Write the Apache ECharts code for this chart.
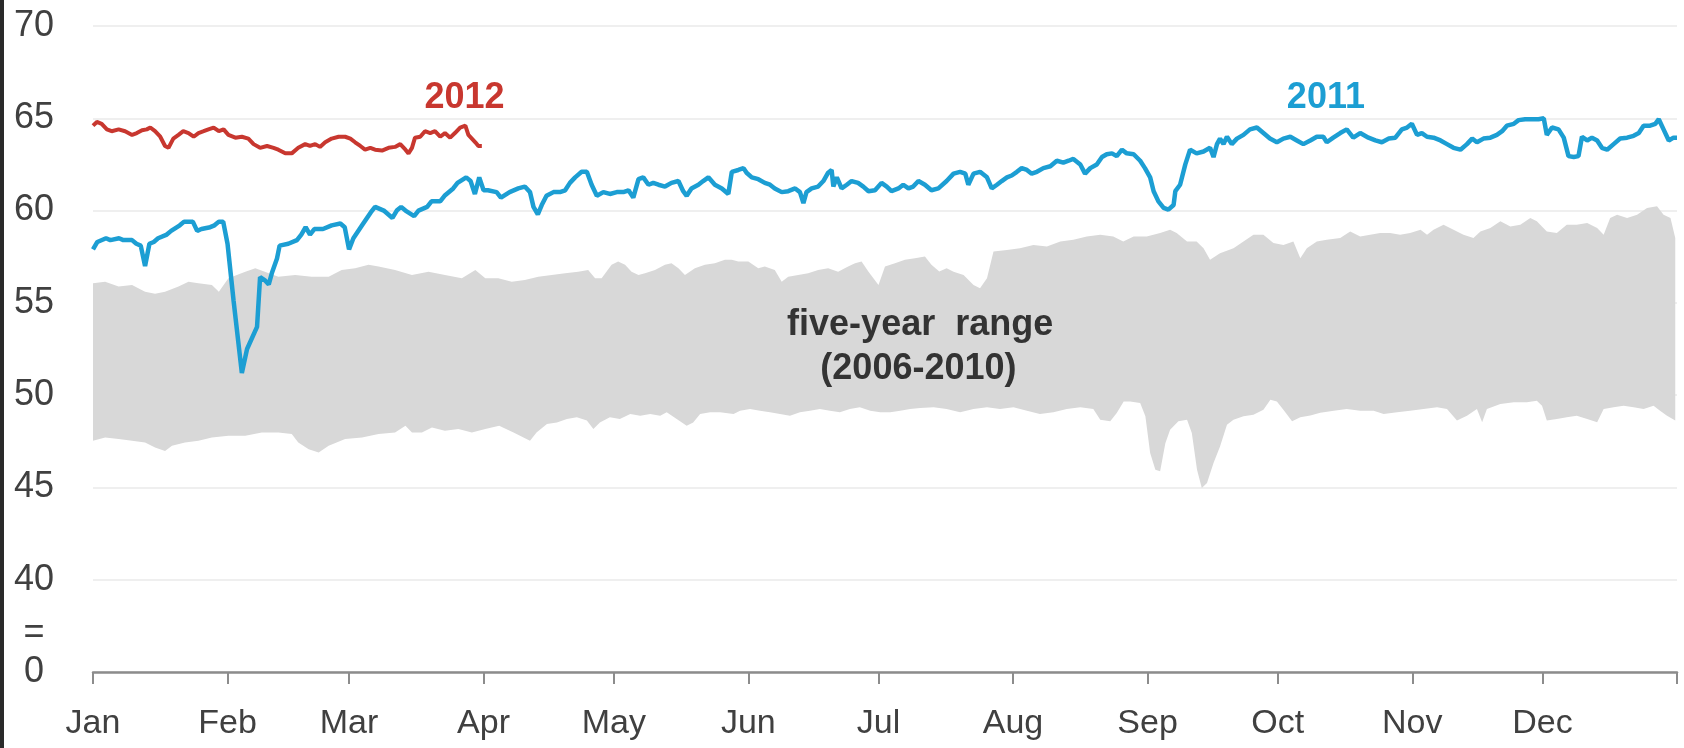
<!DOCTYPE html>
<html><head><meta charset="utf-8">
<script src="https://cdn.jsdelivr.net/npm/echarts@6/dist/echarts.min.js"></script>
<style>html,body{margin:0;padding:0;background:#fff}#c{width:1684px;height:748px}</style>
</head><body><div id="c"></div>
<script>
// ---- axis definitions ----
const monthNames = ['Jan','Feb','Mar','Apr','May','Jun','Jul','Aug','Sep','Oct','Nov','Dec'];
const monthStartDays = [0,31,59,90,120,151,181,212,243,273,304,334];
const monthTickDays = [0,31,59,90,120,151,181,212,243,273,304,334,365];
const yLabelValues = [35,37.1,40,45,50,55,60,65,70];
const yLabelTexts = ['0','=','40','45','50','55','60','65','70'];

// ---- data: [day of year, value] ----
const series2011 = [[0,57.9],[1,58.3],[3,58.5],[4,58.4],[6,58.5],[7,58.4],[9,58.4],[10,58.2],[11,58.1],[12,57.0],[13,58.2],[14,58.3],[15,58.5],[17,58.7],[18,58.9],[20,59.2],[21,59.4],[23,59.4],[24,58.9],[25,59.0],[27,59.1],[28,59.2],[29,59.4],[30,59.4],[31,58.2],[32.4,55.1],[34.3,51.2],[35.5,52.5],[37.8,53.7],[38.5,56.4],[39.7,56.2],[40.5,56.0],[41.2,56.6],[42.4,57.4],[43,58.1],[45,58.2],[47,58.4],[48,58.7],[49,59.1],[50,58.7],[51,59.0],[53,59.0],[55,59.2],[57,59.3],[58,59.1],[59,57.9],[60,58.5],[62,59.2],[64,59.9],[65,60.2],[67,60.0],[69,59.6],[70,60.0],[71,60.2],[72,60.0],[74,59.7],[75,60.0],[77,60.2],[78,60.5],[80,60.5],[81,60.8],[83,61.2],[84,61.5],[86,61.8],[87,61.6],[88,60.9],[89,61.8],[90,61.1],[91,61.1],[93,61.0],[94,60.7],[96,61.0],[98,61.2],[99.5,61.3],[100.7,61.0],[101.5,60.2],[102.5,59.8],[103.4,60.3],[104.5,60.8],[106.1,61.0],[107.6,61.0],[108.8,61.1],[109.9,61.5],[111.1,61.8],[112.6,62.1],[113.8,62.1],[114.9,61.4],[116.1,60.8],[117.6,61.0],[119.1,60.9],[120.7,61.0],[122.2,61.0],[123.4,61.1],[124.5,60.7],[125.7,61.7],[126.8,61.8],[128.0,61.4],[129.1,61.5],[130.3,61.4],[131.8,61.3],[133.3,61.5],[134.9,61.6],[136.0,61.05],[136.8,60.8],[137.9,61.2],[139.5,61.4],[140.6,61.6],[141.8,61.8],[143.3,61.4],[144.9,61.2],[146.4,60.9],[147.2,62.1],[148.7,62.2],[149.9,62.3],[150.6,62.05],[151.8,61.8],[153.3,61.7],[154.8,61.5],[156.0,61.4],[157.1,61.2],[158.7,61.0],[160.2,61.05],[161.8,61.2],[162.9,61.0],[163.7,60.4],[164.4,61.0],[165.6,61.2],[167.1,61.3],[168.3,61.6],[169.4,62.05],[170.2,62.2],[170.6,61.3],[171.4,61.8],[172.5,61.2],[173.7,61.4],[174.8,61.6],[176.3,61.5],[177.5,61.3],[178.7,61.05],[180.2,61.1],[181.7,61.5],[182.9,61.3],[184.0,61.05],[185.6,61.2],[186.7,61.4],[187.9,61.2],[189.0,61.3],[190.2,61.6],[191.7,61.4],[193.2,61.1],[194.8,61.2],[196.7,61.6],[198.3,62.0],[199.8,62.1],[201.0,62.0],[201.7,61.4],[202.9,62.0],[204.4,62.1],[206.0,61.8],[207.1,61.2],[208.3,61.4],[209.4,61.6],[210.6,61.8],[211.7,61.9],[212.9,62.1],[214.0,62.3],[215.2,62.2],[216.3,62.0],[217.5,62.1],[219.0,62.3],[220.6,62.4],[222.1,62.7],[223.6,62.6],[224.8,62.7],[225.9,62.8],[227.5,62.5],[228.6,62.0],[229.8,62.3],[231.3,62.5],[232.5,62.9],[233.6,63.05],[234.8,63.1],[235.9,62.95],[237.1,63.3],[238.2,63.1],[239.8,63.05],[241.3,62.7],[242.4,62.3],[243.6,61.8],[244.4,61.05],[245.5,60.5],[246.7,60.15],[247.8,60.05],[249.0,60.3],[249.4,61.05],[250.5,61.4],[251.7,62.5],[252.8,63.3],[254.3,63.1],[255.9,63.2],[257.4,63.4],[258.2,62.9],[259.0,63.6],[259.7,63.9],[260.5,63.6],[261.3,64.0],[262.4,63.6],[263.6,63.9],[265.1,64.1],[266.6,64.4],[268.2,64.5],[269.7,64.2],[271.2,63.9],[272.8,63.7],[274.3,63.9],[275.9,64.0],[277.4,63.8],[278.9,63.6],[280.5,63.8],[282.0,64.0],[283.5,64.0],[284.3,63.7],[285.8,63.95],[287.4,64.2],[288.9,64.4],[290.4,63.95],[292.0,64.2],[293.9,63.95],[295.5,63.8],[297.0,63.7],[298.6,63.9],[300.1,63.95],[301.6,64.4],[302.8,64.5],[303.9,64.7],[305.1,64.1],[306.2,64.2],[307.4,64.0],[308.9,63.95],[310.5,63.8],[312.0,63.6],[313.5,63.4],[315.1,63.3],[316.6,63.6],[317.8,63.9],[318.9,63.7],[320.4,63.9],[322.0,63.95],[323.5,64.1],[324.7,64.3],[325.8,64.6],[327.4,64.7],[328.5,64.9],[330.0,64.95],[331.6,64.95],[333.1,64.95],[334.3,65.0],[335.0,64.1],[336.2,64.5],[337.7,64.4],[338.9,63.95],[340.0,62.95],[341.2,62.9],[342.3,62.95],[343.1,64.0],[344.3,63.8],[345.4,63.95],[346.6,63.8],[347.7,63.4],[348.9,63.3],[350.4,63.6],[351.9,63.9],[353.5,63.95],[355.0,64.05],[356.2,64.2],[357.3,64.6],[358.8,64.6],[360.0,64.7],[360.8,64.95],[361.9,64.4],[363.1,63.8],[364.2,63.95],[365,63.95]];

const series2012 = [[0,64.6],[0.9,64.8],[2,64.7],[3.2,64.4],[4.3,64.3],[5.9,64.4],[7.4,64.3],[9,64.1],[10.1,64.2],[11.3,64.35],[12.4,64.4],[13.2,64.5],[14.3,64.3],[15.5,64.0],[16.6,63.5],[17.4,63.4],[18.5,63.9],[19.7,64.1],[20.8,64.3],[22,64.2],[23.2,64.0],[24.3,64.2],[25.5,64.3],[26.6,64.4],[27.8,64.5],[29,64.3],[30.1,64.4],[31.2,64.1],[32.8,63.95],[34.3,64.0],[35.8,63.9],[37,63.6],[38.5,63.4],[40.1,63.5],[41.6,63.4],[42.7,63.3],[44.3,63.1],[45.8,63.1],[47.3,63.4],[48.9,63.6],[50,63.5],[51.2,63.6],[52.3,63.45],[53.5,63.7],[55,63.9],[56.6,64.0],[58.1,64.0],[59.3,63.9],[60.4,63.7],[61.6,63.5],[62.7,63.3],[63.9,63.4],[65,63.3],[66.6,63.25],[68.1,63.4],[69.6,63.45],[70.8,63.6],[72,63.3],[72.7,63.1],[73.5,63.4],[74.2,63.95],[75.4,64.0],[76.5,64.3],[77.7,64.2],[78.8,64.3],[80,64.0],[81.1,64.2],[82.3,63.95],[83.4,64.2],[84.6,64.5],[85.8,64.6],[86.5,64.1],[87.3,63.9],[88.1,63.7],[88.8,63.5],[89.6,63.5]];

const rangeUpper = [[0,56.06],[2.8,56.15],[5.9,55.88],[9.0,55.97],[12.0,55.6],[14.3,55.5],[16.6,55.6],[19.7,55.88],[22.0,56.15],[24.3,56.06],[27.4,55.97],[29.0,55.6],[31.2,56.33],[35.1,56.69],[37.4,56.87],[42.7,56.42],[46.6,56.51],[50.4,56.42],[54.3,56.42],[57.3,56.78],[60.4,56.87],[63.5,57.06],[65.8,56.97],[69.6,56.78],[73.5,56.51],[77.3,56.69],[81.1,56.51],[85.0,56.33],[88.1,56.78],[90.4,56.33],[93.4,56.33],[96.5,56.15],[99.5,56.24],[102.6,56.42],[105.7,56.51],[108.8,56.6],[111.8,56.69],[114.1,56.78],[115.7,56.33],[117.2,56.33],[119.5,57.06],[121.0,57.24],[122.6,57.06],[124.1,56.69],[125.7,56.51],[127.2,56.6],[129.5,56.78],[131.8,57.06],[133.3,57.15],[134.9,56.87],[136.4,56.51],[138.7,56.87],[141.0,57.06],[143.3,57.15],[145.6,57.33],[147.2,57.33],[148.7,57.24],[151.0,57.24],[153.3,56.87],[154.8,56.97],[157.1,56.78],[158.7,56.15],[160.2,56.42],[162.5,56.51],[164.8,56.6],[167.1,56.78],[169.4,56.87],[171.7,56.69],[174.0,56.97],[175.6,57.15],[177.1,57.24],[178.7,56.69],[181.0,55.97],[182.5,56.97],[184.8,57.15],[187.1,57.33],[189.4,57.42],[191.7,57.51],[193.2,57.06],[195.0,56.7],[196.7,56.87],[198.3,56.69],[200.6,56.51],[202.9,55.97],[204.4,55.79],[206.0,56.33],[207.5,57.78],[210.6,57.87],[213.6,57.96],[216.7,58.14],[219.8,58.05],[222.9,58.33],[225.9,58.42],[229.0,58.6],[232.1,58.69],[235.1,58.6],[237.4,58.33],[239.8,58.6],[242.8,58.6],[245.9,58.78],[248.2,58.96],[249.7,58.78],[252.1,58.33],[254.3,58.33],[255.9,57.96],[257.4,57.33],[259.7,57.69],[262.8,57.96],[265.1,58.33],[267.4,58.69],[269.7,58.69],[272.0,58.24],[274.3,58.14],[276.6,58.33],[278.2,57.42],[279.7,57.96],[282.0,58.33],[284.3,58.42],[287.4,58.51],[289.7,58.87],[292.0,58.6],[294.3,58.69],[296.6,58.78],[298.9,58.78],[301.2,58.69],[303.5,58.78],[305.9,58.96],[307.4,58.69],[308.9,58.96],[311.2,59.23],[313.5,58.96],[315.8,58.69],[318.1,58.51],[319.7,58.87],[322.0,59.05],[324.3,59.42],[326.6,59.14],[328.9,59.23],[331.2,59.6],[332.7,59.42],[335.0,58.87],[337.3,58.78],[339.6,59.23],[341.9,59.23],[344.3,59.32],[346.6,59.05],[348.1,58.69],[349.6,59.6],[351.2,59.78],[353.5,59.6],[355.8,59.78],[358.1,60.14],[360.4,60.23],[361.9,59.78],[363.5,59.6],[364.6,58.51]];

const rangeLower = [[0,47.53],[2.8,47.71],[5.9,47.62],[9.0,47.53],[12.0,47.44],[14.3,47.16],[16.6,46.98],[18.2,47.26],[21.2,47.44],[24.3,47.53],[27.4,47.71],[31.2,47.8],[35.1,47.8],[38.9,47.98],[42.7,47.98],[45.8,47.89],[47.3,47.44],[49.7,47.07],[52.0,46.89],[54.3,47.26],[58.1,47.62],[62.0,47.71],[65.8,47.89],[69.6,47.98],[72.0,48.34],[73.5,47.98],[75.8,47.98],[78.1,48.25],[81.1,48.07],[84.2,48.16],[87.3,47.98],[90.4,48.16],[93.6,48.34],[96.9,47.98],[99.2,47.71],[100.7,47.53],[102.2,47.98],[104.6,48.43],[106.9,48.52],[109.2,48.71],[111.5,48.8],[113.8,48.62],[115.3,48.16],[116.8,48.52],[119.1,48.8],[121.4,48.71],[123.8,48.98],[126.1,48.89],[128.4,48.98],[130.7,48.89],[132.2,49.07],[134.5,48.71],[136.8,48.34],[138.3,48.52],[139.9,48.98],[142.2,49.07],[144.5,49.07],[147.6,48.98],[149.1,49.16],[151.4,49.25],[153.7,49.16],[156.0,49.07],[158.3,48.98],[160.6,48.89],[162.9,49.07],[165.2,49.16],[167.5,49.25],[169.8,49.16],[172.1,49.07],[174.4,49.25],[176.7,49.34],[179.1,49.16],[181.4,49.07],[183.7,49.07],[186.0,49.16],[188.3,49.25],[190.6,49.3],[193.7,49.34],[196.7,49.25],[199.8,49.07],[202.9,49.25],[206.0,49.34],[209.0,49.25],[212.1,49.34],[215.2,49.16],[218.2,48.98],[221.3,49.07],[224.4,49.25],[227.5,49.34],[230.5,49.25],[232.1,48.67],[234.4,48.58],[235.9,49.03],[237.5,49.66],[239.0,49.66],[241.3,49.57],[242.5,48.85],[243.6,46.86],[244.8,45.96],[245.9,45.87],[247.1,47.4],[248.2,48.13],[250.1,48.58],[252.1,48.67],[253.2,47.95],[254.4,45.96],[255.5,44.97],[256.7,45.24],[258.2,46.32],[259.7,47.22],[261.3,48.4],[262.8,48.67],[265.1,48.85],[267.4,48.94],[269.7,49.21],[271.3,49.75],[272.8,49.66],[274.3,49.21],[276.3,48.58],[278.2,48.8],[280.5,48.9],[282.8,49.05],[285.9,49.16],[288.9,49.25],[292.0,49.16],[295.1,49.16],[297.4,48.98],[300.5,49.07],[303.5,49.16],[306.6,49.25],[309.7,49.34],[312.0,49.25],[314.3,48.62],[316.6,48.89],[318.9,49.25],[320.1,48.53],[321.2,49.25],[324.3,49.52],[327.4,49.61],[330.4,49.61],[332.7,49.7],[333.9,49.43],[335.0,48.62],[337.3,48.71],[339.6,48.8],[341.9,48.89],[344.3,48.71],[346.6,48.53],[348.1,49.25],[350.4,49.34],[352.7,49.43],[355.0,49.34],[357.3,49.25],[359.6,49.43],[361.1,49.16],[362.7,48.89],[364.6,48.62]];

// ---- annotations: text at [day, value] ----
const annotTexts = ['2012','2011','five-year  range','(2006-2010)'];
const annotDays = [85.6,284.1,190.6,190.2];
const annotValues = [66.1,66.1,53.8,51.4];
const annotColors = ['#c8372f','#1c9ed3','#333333','#333333'];

const chart = echarts.init(document.getElementById('c'), null, {renderer:'canvas'});
const fontFam = 'Liberation Sans, Arial, sans-serif';
chart.setOption({
  animation:false,
  backgroundColor:'#ffffff',
  grid:{left:93, right:7, top:26, bottom:76, containLabel:false},
  xAxis:{
    type:'value', min:0, max:365,
    axisLine:{show:true, lineStyle:{color:'#8c8c8c', width:2.5}},
    axisTick:{show:true, customValues:monthTickDays, length:12, inside:false, lineStyle:{color:'#8c8c8c', width:2}},
    axisLabel:{show:true, customValues:monthStartDays, margin:35, fontSize:34, color:'#404040', fontFamily:fontFam,
      formatter:function(v){ const i = monthStartDays.indexOf(Math.round(v)); return i>=0 ? monthNames[i] : ''; }},
    splitLine:{show:false}
  },
  yAxis:{
    type:'value', min:35, max:70, interval:5,
    axisLine:{show:false}, axisTick:{show:false},
    axisLabel:{show:true, customValues:yLabelValues, align:'center', margin:59, fontSize:36, color:'#404040', fontFamily:fontFam,
      formatter:function(v){ for(let i=0;i<yLabelValues.length;i++){ if(Math.abs(yLabelValues[i]-v)<0.01) return yLabelTexts[i]; } return ''; }},
    splitLine:{show:true, lineStyle:{color:'#efefef', width:2}}
  },
  series:[
    {
      name:'five-year range (2006-2010)', type:'custom', silent:true, z:1,
      data:[[0,50]],
      renderItem:function(params, api){
        const pts = rangeUpper.map(p => api.coord(p)).concat(rangeLower.slice().reverse().map(p => api.coord(p)));
        return {type:'polygon', shape:{points:pts}, style:{fill:'#d8d8d8', stroke:null}};
      }
    },
    {name:'2011', type:'line', data:series2011, showSymbol:false, symbol:'none', z:3,
      lineStyle:{color:'#1c9ed3', width:4.5}},
    {name:'2012', type:'line', data:series2012, showSymbol:false, symbol:'none', z:4,
      lineStyle:{color:'#c8372f', width:4}}
  ]
});

const gElems = annotTexts.map((t,i) => {
  const p = chart.convertToPixel({gridIndex:0}, [annotDays[i], annotValues[i]]);
  return {type:'text', x:p[0], y:p[1], z:10,
    style:{text:t, fill:annotColors[i], font:'bold 36px ' + fontFam, textAlign:'center', textVerticalAlign:'middle'}};
});
gElems.push({type:'rect', shape:{x:0, y:0, width:4, height:748}, style:{fill:'#2a2a2a'}, z:10});
chart.setOption({graphic:gElems});
</script>
</body></html>
